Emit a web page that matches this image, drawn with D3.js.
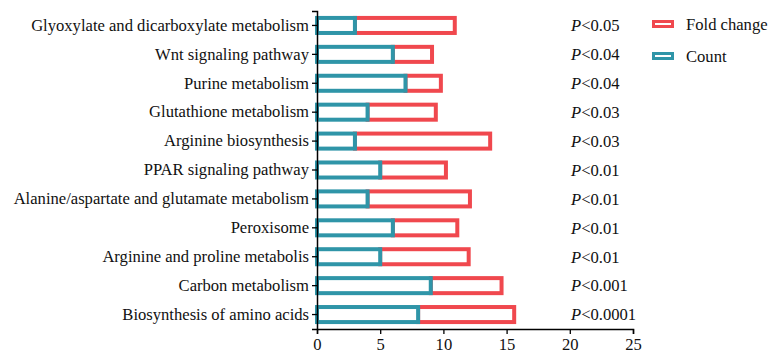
<!DOCTYPE html>
<html>
<head>
<meta charset="utf-8">
<script src="https://cdn.jsdelivr.net/npm/d3@7"></script>
<style>
  body { margin: 0; background: #fff; }
  svg text { font-family: "Liberation Serif", "Times New Roman", Times, serif; }
</style>
</head>
<body>
<script>
var categories = [
  "Glyoxylate and dicarboxylate metabolism",
  "Wnt signaling pathway",
  "Purine metabolism",
  "Glutathione metabolism",
  "Arginine biosynthesis",
  "PPAR signaling pathway",
  "Alanine/aspartate and glutamate metabolism",
  "Peroxisome",
  "Arginine and proline metabolis",
  "Carbon metabolism",
  "Biosynthesis of amino acids"
];
var countValues = [3, 6, 7, 4, 3, 5, 4, 6, 5, 9, 8];
var foldValues = [7.9, 3.1, 2.8, 5.4, 10.7, 5.2, 8.1, 5.1, 7.0, 5.6, 7.6];
var pLabels = ["0.05", "0.04", "0.04", "0.03", "0.03", "0.01", "0.01", "0.01", "0.01", "0.001", "0.0001"];
var xTicks = [0, 5, 10, 15, 20, 25];

var width = 768, height = 353;
var teal = "#2f95a8", red = "#f0484e";
var serif = "'Liberation Serif', 'Times New Roman', Times, serif";

var svg = d3.select("body").append("svg")
  .attr("width", width).attr("height", height);

var x = d3.scaleLinear().domain([0, 25]).range([317, 633]);
var y = d3.scaleBand().domain(categories).range([11, 329])
  .paddingInner(0.48).paddingOuter(0.24);

// fold change segment first, count drawn on top so its edge covers the join
svg.selectAll("rect.fold")
  .data(categories)
  .enter()
  .append("rect")
  .attr("class", "fold")
  .attr("x", function(d, i) { return x(countValues[i]); })
  .attr("y", function(d) { return y(d); })
  .attr("width", function(d, i) { return x(countValues[i] + foldValues[i]) - x(countValues[i]); })
  .attr("height", y.bandwidth())
  .attr("fill", "#fff")
  .attr("stroke", red)
  .attr("stroke-width", 4);

svg.selectAll("rect.count")
  .data(categories)
  .enter()
  .append("rect")
  .attr("class", "count")
  .attr("x", x(0))
  .attr("y", function(d) { return y(d); })
  .attr("width", function(d, i) { return x(countValues[i]) - x(0); })
  .attr("height", y.bandwidth())
  .attr("fill", "#fff")
  .attr("stroke", teal)
  .attr("stroke-width", 4);

var xAxis = svg.append("g")
  .attr("transform", "translate(0,329)")
  .call(d3.axisBottom(x).tickValues(xTicks).tickSize(5).tickPadding(4));
var yAxis = svg.append("g")
  .attr("transform", "translate(317,0)")
  .call(d3.axisLeft(y).tickSize(5).tickPadding(3));

[xAxis, yAxis].forEach(function(g) {
  g.select(".domain").attr("stroke", "#000").attr("stroke-width", 1.5);
  g.selectAll(".tick line").attr("stroke", "#000").attr("stroke-width", 1.3);
  g.selectAll(".tick text")
    .attr("fill", "#111")
    .style("font-family", serif)
    .style("font-size", "16.6px");
});

// P-value annotations
var pText = svg.selectAll("text.pval")
  .data(categories)
  .enter()
  .append("text")
  .attr("class", "pval")
  .attr("x", 571)
  .attr("y", function(d) { return y(d) + y.bandwidth() / 2; })
  .attr("dy", "0.35em")
  .attr("fill", "#111")
  .style("font-family", serif)
  .style("font-size", "16.6px");
pText.append("tspan").style("font-style", "italic").text("P");
pText.append("tspan").text(function(d, i) { return "<" + pLabels[i]; });

// legend
var legendItems = [{ name: "Fold change", color: red }, { name: "Count", color: teal }];
var legend = svg.selectAll("g.legend")
  .data(legendItems)
  .enter()
  .append("g")
  .attr("class", "legend")
  .attr("transform", function(d, i) { return "translate(652," + (24 + i * 32) + ")"; });
legend.append("rect")
  .attr("x", 1.5).attr("y", -2.5)
  .attr("width", 19).attr("height", 5)
  .attr("fill", "#fff")
  .attr("stroke", function(d) { return d.color; })
  .attr("stroke-width", 3);
legend.append("text")
  .attr("x", 34).attr("dy", "0.35em")
  .attr("fill", "#111")
  .style("font-family", serif)
  .style("font-size", "16.6px")
  .text(function(d) { return d.name; });
</script>
</body>
</html>
